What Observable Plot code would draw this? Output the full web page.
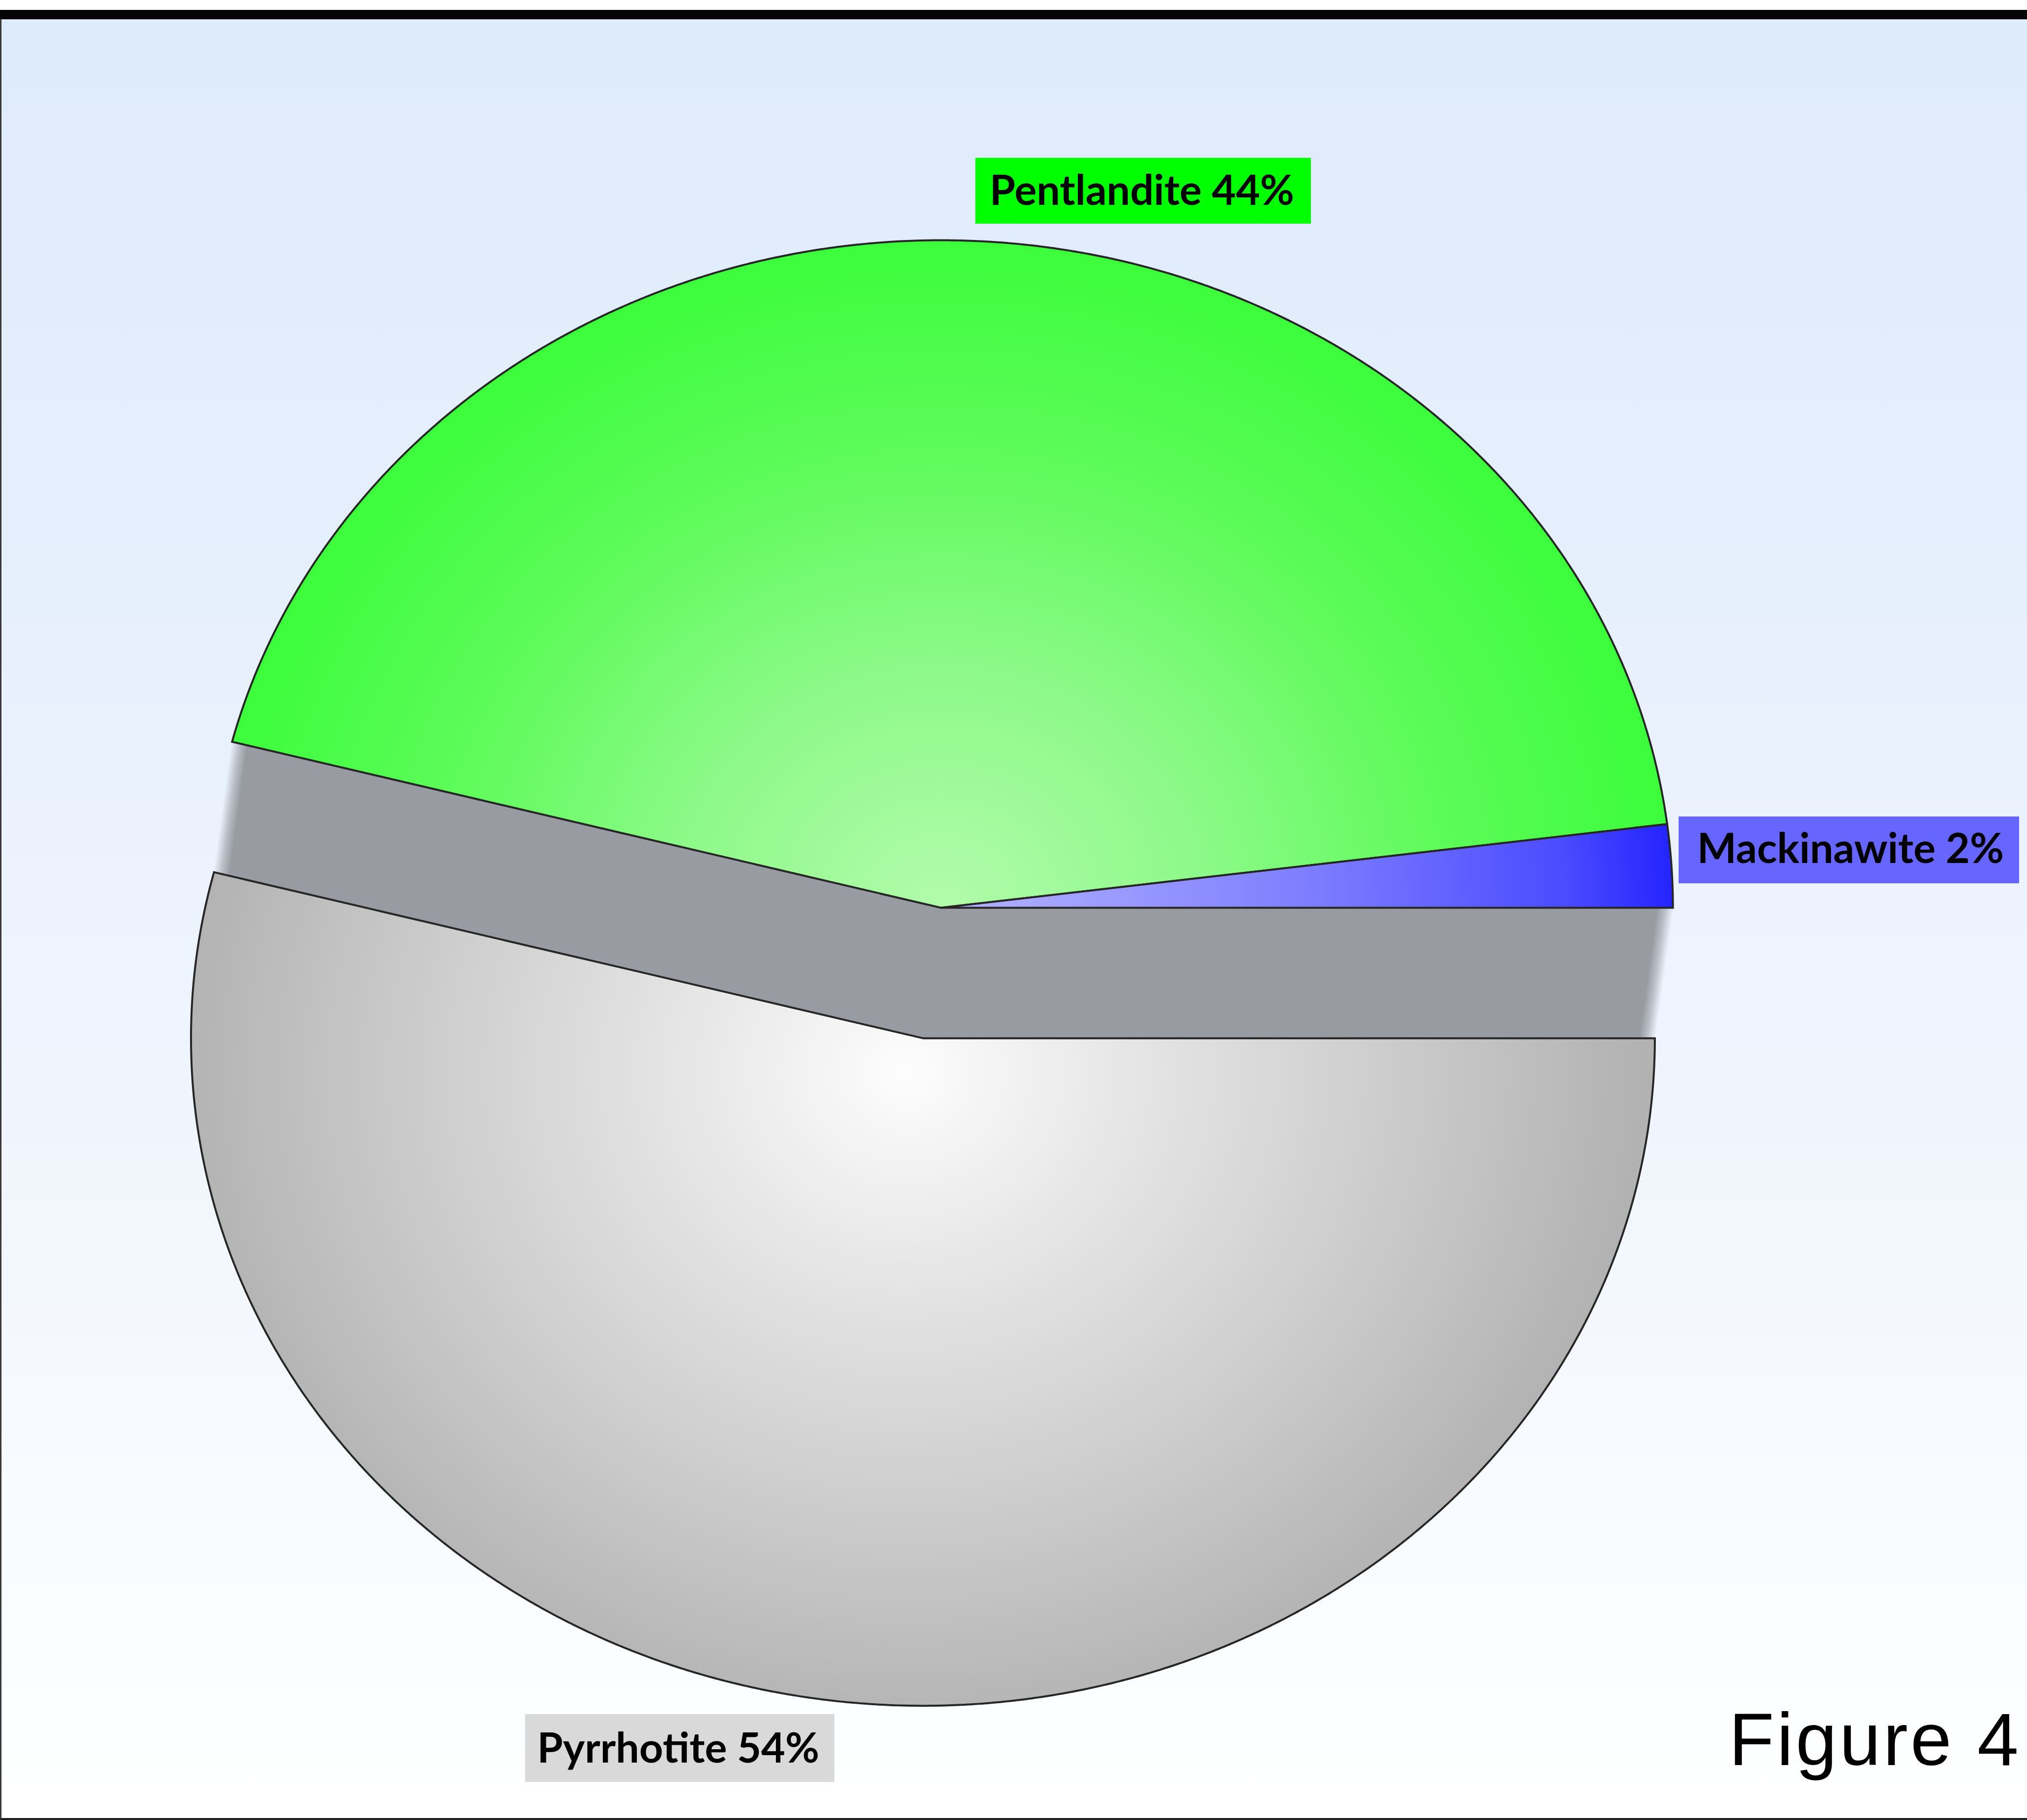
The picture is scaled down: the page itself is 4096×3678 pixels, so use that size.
<!DOCTYPE html>
<html><head><meta charset="utf-8">
<script src="https://cdn.jsdelivr.net/npm/d3@7"></script>
<script src="https://cdn.jsdelivr.net/npm/@observablehq/plot@0.6"></script>
<style>
html,body{margin:0;padding:0;width:4096px;height:3678px;overflow:hidden;background:#fff;}
#frame{position:absolute;left:0;top:0;width:4096px;height:3678px;}
#panel{position:absolute;left:0;top:39px;width:4096px;height:3639px;box-sizing:border-box;
  border-left:3px solid #3a3a3a;border-bottom:4px solid #1e1e1e;
  background:linear-gradient(to bottom,#deebfb 0%,#e4eefc 25%,#ecf3fd 50%,#f4f8fe 72%,#fbfdff 90%,#ffffff 100%);}
#topbar{position:absolute;left:0;top:19.5px;width:4096px;height:19.5px;background:#050505;}
#chart{position:absolute;left:0;top:0;}
</style></head>
<body><div id="frame"><div id="panel"></div><div id="topbar"></div><div id="chart"></div></div>
<script>
// ---- data ----
const minerals = ["Mackinawite", "Pentlandite", "Pyrrhotite"];
const shares = [2, 44, 54];
const explodedMineral = "Pyrrhotite";
const figureLabel = "Figure 4";

// ---- styles / layout ----
const W = 4096, H = 3678;
const cxPx = 1901, cyPx = 1834, rxPx = 1479, ryPx = 1349;
const explode = 0.197;
const boxColors = {Mackinawite: "#6666ff", Pentlandite: "#00ff00", Pyrrhotite: "#d9d9d9"};
const labelLayout = {
  Mackinawite: {x1: 1.0081, x2: 1.4733, y1: 0.0363, y2: 0.1364, tx: 1.2427, ty: 0.0867},
  Pentlandite: {x1: 0.0473, x2: 0.5057, y1: 1.0245, y2: 1.1231, tx: 0.2745, ty: 1.0727},
  Pyrrhotite: {x1: -0.5680, x2: -0.1454, y1: -1.3099, y2: -1.2083, tx: -0.3590, ty: -1.2609}
};
const figureLayout = {x: 1.2760, y: -1.2485};

// ---- geometry from data ----
const total = d3.sum(shares);
let acc = 0;
const slices = minerals.map((m, i) => {
  const a0 = acc / total * 2 * Math.PI; acc += shares[i];
  const a1 = acc / total * 2 * Math.PI;
  return {m, v: shares[i], a0, a1, mid: (a0 + a1) / 2};
});
function offsetOf(s) {
  return s.m === explodedMineral ? [explode * Math.cos(s.mid), explode * Math.sin(s.mid)] : [0, 0];
}
function slicePts(s) {
  const [ox, oy] = offsetOf(s);
  const n = Math.max(12, Math.ceil((s.a1 - s.a0) / (2 * Math.PI) * 1440));
  const pts = [{x: ox, y: oy, m: s.m}];
  for (let k = 0; k <= n; k++) {
    const a = s.a0 + (s.a1 - s.a0) * k / n;
    pts.push({x: ox + Math.cos(a), y: oy + Math.sin(a), m: s.m});
  }
  return pts;
}
const ex = slices.find(s => s.m === explodedMineral);
const [eox, eoy] = offsetOf(ex);
const bandPts = [
  {x: Math.cos(ex.a0), y: Math.sin(ex.a0)},
  {x: 0, y: 0},
  {x: Math.cos(ex.a1), y: Math.sin(ex.a1)},
  {x: eox + Math.cos(ex.a1), y: eoy + Math.sin(ex.a1)},
  {x: eox, y: eoy},
  {x: eox + Math.cos(ex.a0), y: eoy + Math.sin(ex.a0)}
];
const drawOrder = [explodedMineral, ...minerals.filter(m => m !== explodedMineral).reverse()];
const labels = slices.map(s => ({m: s.m, text: `${s.m} ${s.v}%`, ...labelLayout[s.m]}));

const sliceMarks = drawOrder.map(m => {
  const s = slices.find(d => d.m === m);
  return Plot.line(slicePts(s), {x: "x", y: "y", curve: "linear-closed",
    fill: `url(#grad-${m})`, stroke: "#262626", strokeWidth: 4, strokeLinejoin: "miter", strokeMiterlimit: 10});
});

const plot = Plot.plot({
  width: W, height: H, margin: 0,
  x: {domain: [-cxPx / rxPx, (W - cxPx) / rxPx], range: [0, W], axis: null},
  y: {domain: [-(H - cyPx) / ryPx, cyPx / ryPx], range: [H, 0], axis: null},
  style: {background: "transparent", overflow: "visible"},
  marks: [
    Plot.line(bandPts, {x: "x", y: "y", curve: "linear-closed", fill: "url(#grad-band)", stroke: "url(#grad-band)", strokeWidth: 1}),
    ...sliceMarks,
    Plot.rect(labels, {x1: "x1", x2: "x2", y1: "y1", y2: "y2", fill: d => boxColors[d.m]}),
    Plot.text(labels, {x: "tx", y: "ty", text: "text", fontFamily: "Lato", fontWeight: "bold", fontSize: 84,
      fill: "black", textAnchor: "middle", lineAnchor: "middle"}),
    Plot.text([figureLabel], {x: () => figureLayout.x, y: () => figureLayout.y, text: d => d,
      fontFamily: "Liberation Sans", fontSize: 150, fill: "black", textAnchor: "middle", lineAnchor: "middle"})
  ]
});
document.getElementById("chart").appendChild(plot);

// gradients
const xs = plot.scale("x"), ys = plot.scale("y");
const svg = d3.select(plot);
const defs = svg.insert("defs", ":first-child");
function radial(id, cxData, cyData, stops) {
  const cx = xs.apply(cxData), cy = ys.apply(cyData);
  const g = defs.append("radialGradient").attr("id", id).attr("gradientUnits", "userSpaceOnUse")
    .attr("cx", cx).attr("cy", cy).attr("r", rxPx)
    .attr("gradientTransform", `translate(${cx},${cy}) scale(1,${ryPx / rxPx}) translate(${-cx},${-cy})`);
  stops.forEach(([o, c]) => g.append("stop").attr("offset", o).attr("stop-color", c));
}
radial("grad-Pentlandite", 0, 0, [[0, "#b2fbab"], [0.35, "#8ef98a"], [0.7, "#5cfb58"], [1, "#3cfd3c"]]);
radial("grad-Mackinawite", 0, 0, [[0, "#b4b4ff"], [0.5, "#7e7eff"], [0.85, "#4c4cff"], [1, "#2424ff"]]);
radial("grad-Pyrrhotite", eox - 0.023, eoy - 0.05, [[0, "#fdfdfd"], [0.3, "#e6e6e6"], [0.65, "#cdcdcd"], [1, "#b2b2b2"]]);

// band: soft side edges via a linear gradient perpendicular to the explode direction
{
  const ax = xs.apply(bandPts[0].x), ay = ys.apply(bandPts[0].y);
  const bx = xs.apply(bandPts[2].x), by = ys.apply(bandPts[2].y);
  const ox = xs.apply(eox) - xs.apply(0), oy = ys.apply(eoy) - ys.apply(0);
  const ol = Math.hypot(ox, oy);
  const px = oy / ol, py = -ox / ol;
  const proj = (bx - ax) * px + (by - ay) * py;
  const sgn = proj > 0 ? 1 : -1;
  const L = Math.abs(proj);
  const g = defs.append("linearGradient").attr("id", "grad-band").attr("gradientUnits", "userSpaceOnUse")
    .attr("x1", ax).attr("y1", ay).attr("x2", ax + sgn * px * L).attr("y2", ay + sgn * py * L);
  const f = 32 / L;
  [[0, 0.05], [f * 0.5, 0.6], [f, 1], [1 - f, 1], [1 - f * 0.5, 0.6], [1, 0.05]].forEach(([o, op]) =>
    g.append("stop").attr("offset", o).attr("stop-color", "#989ba1").attr("stop-opacity", op));
}
svg.selectAll("text").filter(function() { return this.textContent === figureLabel; }).attr("letter-spacing", "5px");
</script>
</body></html>
